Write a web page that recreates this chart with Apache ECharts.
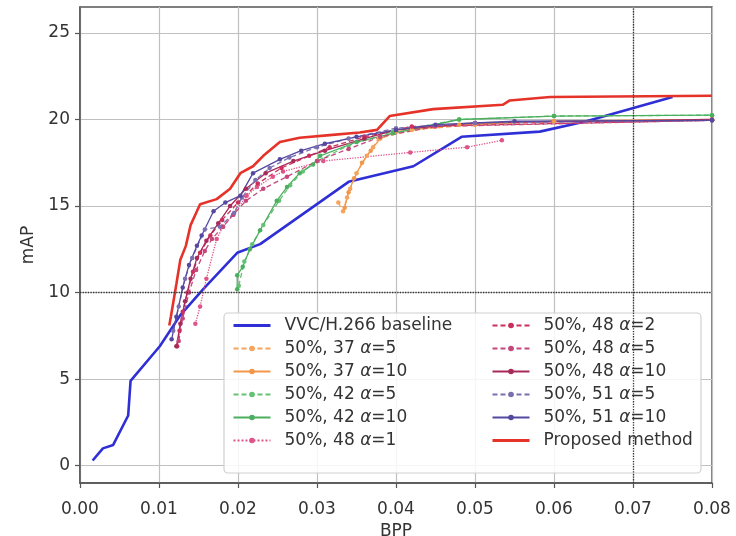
<!DOCTYPE html>
<html>
<head>
<meta charset="utf-8">
<script src="https://cdn.jsdelivr.net/npm/echarts@6/dist/echarts.min.js"></script>
<style>
  html, body { margin: 0; padding: 0; background: #ffffff; }
  #chart { width: 736px; height: 536px; }
</style>
</head>
<body>
<div id="chart"></div>
<script>
// Rate / accuracy curves: mAP versus bits per pixel.
const xTicks = [0, 0.01, 0.02, 0.03, 0.04, 0.05, 0.06, 0.07, 0.08];
const yTicks = [0, 5, 10, 15, 20, 25];
const refLineY = 10;
const refLineX = 0.072;

const vvcBaseline = [[0.0016,0.3],[0.0029,1.0],[0.0042,1.2],[0.0061,2.9],[0.0064,4.9],[0.0101,6.9],[0.0127,8.7],[0.0156,10.2],[0.0199,12.3],[0.0228,12.8],[0.0340,16.4],[0.0422,17.3],[0.0483,19.0],[0.0582,19.3],[0.0641,19.9],[0.0750,21.3]];
const p37a5  = [[0.0327,15.2],[0.0333,14.7],[0.0338,15.5],[0.0342,16.0],[0.0350,16.9],[0.0363,17.9],[0.0371,18.4],[0.0378,18.9],[0.0420,19.4],[0.0500,19.7],[0.0600,19.9],[0.0800,20.0]];
const p37a10 = [[0.0335,14.9],[0.0340,15.8],[0.0347,16.6],[0.0357,17.5],[0.0368,18.2],[0.0380,18.9],[0.0400,19.3],[0.0480,19.7],[0.0600,19.9],[0.0800,20.0]];
const p42a5  = [[0.0201,10.4],[0.0208,11.8],[0.0218,12.8],[0.0232,13.9],[0.0252,15.3],[0.0266,16.2],[0.0282,17.0],[0.0300,17.6],[0.0340,18.5],[0.0396,19.3],[0.0480,20.0],[0.0600,20.2],[0.0800,20.25]];
const p42a10 = [[0.0199,10.2],[0.0199,11.0],[0.0206,11.5],[0.0215,12.5],[0.0228,13.6],[0.0249,15.3],[0.0262,16.1],[0.0278,16.9],[0.0295,17.4],[0.0304,17.9],[0.0350,18.7],[0.0396,19.2],[0.0480,20.0],[0.0600,20.2],[0.0800,20.25]];
const p48a1  = [[0.0146,8.2],[0.0152,9.2],[0.0160,10.8],[0.0173,13.1],[0.0181,13.8],[0.0194,14.5],[0.0211,15.6],[0.0224,16.1],[0.0244,16.7],[0.0257,17.0],[0.0308,17.6],[0.0418,18.1],[0.0490,18.4],[0.0534,18.8]];
const p48a2  = [[0.0123,6.9],[0.0126,7.8],[0.0130,8.9],[0.0136,10.0],[0.0143,11.2],[0.0152,12.3],[0.0165,13.3],[0.0180,14.2],[0.0200,15.2],[0.0225,16.3],[0.0255,17.2],[0.0290,17.9],[0.0316,18.4],[0.0360,19.0],[0.0420,19.6],[0.0800,19.95]];
const p48a5  = [[0.0125,7.2],[0.0130,8.5],[0.0138,10.0],[0.0147,11.3],[0.0158,12.4],[0.0167,13.1],[0.0181,13.8],[0.0194,14.5],[0.0210,15.3],[0.0232,16.0],[0.0262,16.7],[0.0300,17.6],[0.0340,18.3],[0.0380,19.0],[0.0450,19.6],[0.0800,19.95]];
const p48a10 = [[0.0122,6.9],[0.0127,8.2],[0.0133,9.5],[0.0140,10.8],[0.0148,12.0],[0.0160,13.0],[0.0175,14.0],[0.0190,15.0],[0.0210,16.0],[0.0235,16.9],[0.0270,17.6],[0.0310,18.2],[0.0360,18.9],[0.0400,19.4],[0.0500,19.8],[0.0800,20.0]];
const p51a5  = [[0.0118,7.8],[0.0125,9.2],[0.0133,10.8],[0.0142,12.0],[0.0158,13.65],[0.0177,13.8],[0.0195,14.6],[0.0205,15.5],[0.0222,16.5],[0.0240,17.2],[0.0265,17.8],[0.0300,18.4],[0.0340,18.9],[0.0400,19.5],[0.0500,19.8],[0.0800,19.95]];
const p51a10 = [[0.0116,7.3],[0.0122,8.6],[0.0130,10.3],[0.0138,11.6],[0.0148,12.7],[0.0154,13.3],[0.0169,14.7],[0.0184,15.2],[0.0203,15.6],[0.0219,16.9],[0.0253,17.7],[0.0280,18.2],[0.0310,18.6],[0.0350,19.0],[0.0400,19.4],[0.0450,19.7],[0.0550,19.9],[0.0800,19.95]];
const proposed = [[0.0113,8.1],[0.0115,8.6],[0.0122,10.5],[0.0127,11.9],[0.0134,12.7],[0.0140,13.9],[0.0148,14.7],[0.0152,15.1],[0.0173,15.4],[0.0190,16.0],[0.0203,16.9],[0.0219,17.3],[0.0232,17.9],[0.0253,18.7],[0.0278,18.95],[0.0316,19.1],[0.0354,19.25],[0.0376,19.4],[0.0392,20.2],[0.0447,20.6],[0.0535,20.85],[0.0544,21.1],[0.0595,21.3],[0.0800,21.37]];

const FONT = 'DejaVu Sans';

function curve(name, data, color, style, width, marker) {
  return {
    name: name,
    type: 'line',
    data: data,
    symbol: marker ? 'circle' : 'none',
    symbolSize: 4.5,
    showSymbol: !!marker,
    itemStyle: { color: color },
    lineStyle: { color: color, width: width, type: style },
    emphasis: { disabled: true },
    z: 2
  };
}

const dash = [5, 3];
const series = [
  curve('VVC/H.266 baseline', vvcBaseline, '#2f2fd6', 'solid', 2.6, false),
  curve('50%, 37 {i|α}=5',  p37a5,  '#f7a35c', dash, 1.3, true),
  curve('50%, 37 {i|α}=10', p37a10, '#f2974a', 'solid', 1.3, true),
  curve('50%, 42 {i|α}=5',  p42a5,  '#64c274', dash, 1.3, true),
  curve('50%, 42 {i|α}=10', p42a10, '#4caf5f', 'solid', 1.3, true),
  curve('50%, 48 {i|α}=1',  p48a1,  '#e0548a', 'dotted', 1.3, true),
  curve('50%, 48 {i|α}=2',  p48a2,  '#cc2f5c', dash, 1.3, true),
  curve('50%, 48 {i|α}=5',  p48a5,  '#c4487c', dash, 1.3, true),
  curve('50%, 48 {i|α}=10', p48a10, '#a82a5a', 'solid', 1.3, true),
  curve('50%, 51 {i|α}=5',  p51a5,  '#7a6fb0', dash, 1.3, true),
  curve('50%, 51 {i|α}=10', p51a10, '#5548a0', 'solid', 1.3, true),
  curve('Proposed method', proposed, '#e5332a', 'solid', 2.6, false)
];
series[series.length - 1].z = 3;

// dotted reference lines
series[0].markLine = {
  silent: true,
  symbol: 'none',
  label: { show: false },
  lineStyle: { color: '#333', type: 'dotted', width: 1.3 },
  data: [{ yAxis: refLineY }, { xAxis: refLineX }]
};

// legend entries: plain lines (no marker) for the two thick curves
const legendItems = series.map(s => s.symbol === 'none'
  ? { name: s.name, itemStyle: { opacity: 0 }, lineStyle: { width: 3 } }
  : { name: s.name });

const legendText = {
  fontFamily: FONT, fontSize: 17, color: '#333',
  padding: [0, 0, 0, 9],
  rich: { i: { fontFamily: FONT, fontSize: 17, fontStyle: 'italic', color: '#333' } }
};
function legendBlock(left, items) {
  return {
    data: items, left: left, top: 317, orient: 'vertical',
    itemWidth: 37, itemHeight: 7, itemGap: 6, padding: 0,
    selectedMode: false, textStyle: legendText, z: 5
  };
}

const chart = echarts.init(document.getElementById('chart'));
chart.setOption({
  animation: false,
  backgroundColor: '#ffffff',
  grid: {
    left: 80, right: 24, top: 7, bottom: 53,
    outerBoundsMode: 'none', containLabel: false,
    show: true, borderColor: '#555', borderWidth: 1.5, backgroundColor: 'transparent'
  },
  xAxis: {
    type: 'value', min: xTicks[0], max: xTicks[xTicks.length - 1], interval: 0.01,
    name: 'BPP', nameLocation: 'middle', nameGap: 38,
    nameTextStyle: { fontFamily: FONT, fontSize: 17, color: '#333' },
    axisLine: { show: true, onZero: false, lineStyle: { color: '#555', width: 1.5 } },
    axisTick: { show: true, length: 5, lineStyle: { color: '#555', width: 1.2 } },
    axisLabel: { fontFamily: FONT, fontSize: 17, color: '#333', margin: 18, formatter: v => v.toFixed(2) },
    splitLine: { show: true, lineStyle: { color: '#c0c0c0', width: 1.2 } }
  },
  yAxis: {
    type: 'value', min: -1, max: 26.5,
    name: 'mAP', nameLocation: 'middle', nameGap: 27, nameRotate: 90,
    nameTextStyle: { fontFamily: FONT, fontSize: 17, color: '#333' },
    axisLine: { show: true, onZero: false, lineStyle: { color: '#555', width: 1.5 } },
    axisTick: { show: true, length: 5, customValues: yTicks, lineStyle: { color: '#555', width: 1.2 } },
    axisLabel: { fontFamily: FONT, fontSize: 17, color: '#333', margin: 10, customValues: yTicks },
    splitLine: { show: true, lineStyle: { color: '#c0c0c0', width: 1.2 } }
  },
  legend: [legendBlock(232, legendItems.slice(0, 6)), legendBlock(491, legendItems.slice(6))],
  graphic: [{
    type: 'rect', z: 4,
    shape: { x: 224, y: 313, width: 477, height: 160, r: 4 },
    style: { fill: 'rgba(255,255,255,0.85)', stroke: '#d0d0d0', lineWidth: 1.2 }
  }],
  series: series
});
</script>
</body>
</html>
